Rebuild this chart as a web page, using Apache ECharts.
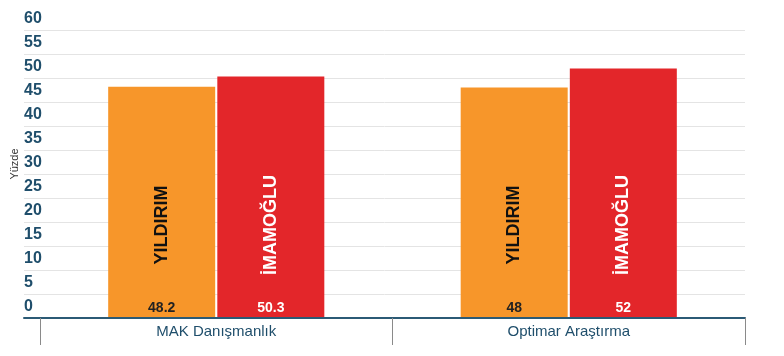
<!DOCTYPE html>
<html><head><meta charset="utf-8">
<script src="https://cdn.jsdelivr.net/npm/echarts@6/dist/echarts.min.js"></script>
<style>html,body{margin:0;padding:0;background:#fff}#c{width:784px;height:356px}</style>
</head><body><div id="c"></div>
<script>
const categories = ['MAK Danışmanlık', 'Optimar Araştırma'];
const seriesNames = ['YILDIRIM', 'İMAMOĞLU'];
const yildirim = [48.2, 48];
const imamoglu = [50.3, 52];
const yTicks = { min: 0, max: 60, interval: 5 };
const yName = 'Yüzde';

const FONT = "'Liberation Sans Narrow', 'Liberation Sans', Arial, sans-serif";
const colors = ['#F7962A', '#E3262A'];
const nameColors = ['#111111', '#ffffff'];
const valColors = ['#222222', '#ffffff'];
const values = [yildirim, imamoglu];

const chart = echarts.init(document.getElementById('c'));
const mainSeries = values.map((d, i) => ({
  name: seriesNames[i], type: 'bar', xAxisIndex: 0, yAxisIndex: 0, data: d,
  barWidth: 107, barGap: '2%',
  itemStyle: { color: colors[i] },
  label: {
    show: true, position: 'insideBottom', distance: 93, rotate: 90,
    align: 'center', verticalAlign: 'middle',
    formatter: seriesNames[i], color: nameColors[i],
    fontFamily: FONT, fontWeight: 'bold', fontSize: 18
  },
  z: 2
}));
const valSeries = values.map((d, i) => ({
  name: seriesNames[i] + '_v', type: 'bar', xAxisIndex: 1, yAxisIndex: 0, data: d,
  barWidth: 107, barGap: '2%',
  itemStyle: { color: 'rgba(0,0,0,0)' },
  label: {
    show: true, position: 'insideBottom', distance: 3,
    color: valColors[i], fontFamily: FONT, fontWeight: 'bold', fontSize: 14
  },
  silent: true, z: 3
}));

chart.setOption({
  animation: false,
  grid: [
    { left: 40, right: 39, top: 30, bottom: 38, containLabel: false, outerBoundsMode: 'none' },
    { left: 24, right: 39, top: 30, bottom: 38, containLabel: false, outerBoundsMode: 'none' }
  ],
  xAxis: [{
    type: 'category', data: categories, gridIndex: 0,
    axisLine: { show: false },
    axisTick: { show: true, length: 27, interval: 0, lineStyle: { color: '#8a8a8a' } },
    axisLabel: { color: '#1F4E6B', fontFamily: FONT, fontSize: 15, margin: 6 },
    z: 5
  }, {
    type: 'category', data: categories, gridIndex: 0, show: false
  }, {
    type: 'value', gridIndex: 1, min: 0, max: 1,
    axisLine: { show: true, onZero: false, lineStyle: { color: '#2B5A75', width: 2 } },
    axisTick: { show: false }, axisLabel: { show: false }, splitLine: { show: false },
    z: 4
  }],
  yAxis: [{
    type: 'value', gridIndex: 0, min: yTicks.min, max: yTicks.max, interval: yTicks.interval,
    axisLine: { show: false }, axisTick: { show: false },
    axisLabel: { color: '#1F4E6B', fontFamily: FONT, fontWeight: 'bold', fontSize: 16,
      align: 'left', margin: 16, verticalAlign: 'bottom', padding: [0, 0, 3, 0] },
    splitLine: { show: false }
  }, {
    type: 'value', gridIndex: 1, min: yTicks.min, max: yTicks.max, interval: yTicks.interval,
    name: yName, nameLocation: 'middle', nameGap: 4, nameRotate: 90,
    nameTextStyle: { color: '#333', fontSize: 11, fontFamily: FONT, padding: [0, 0, 0, 20] },
    axisLine: { show: false }, axisTick: { show: false }, axisLabel: { show: false },
    splitLine: { lineStyle: { color: '#e4e4e4', width: 1 } }
  }],
  series: mainSeries.concat(valSeries)
});
</script>
</body></html>
